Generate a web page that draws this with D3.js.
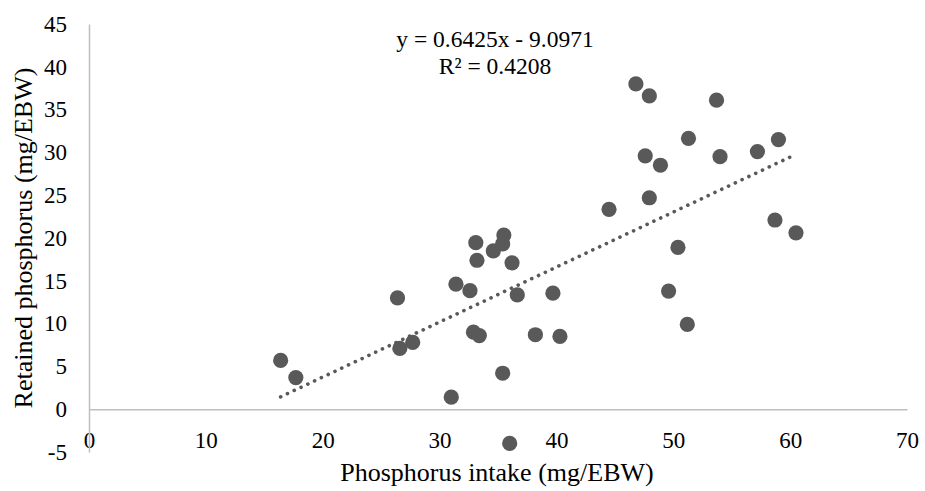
<!DOCTYPE html>
<html>
<head>
<meta charset="utf-8">
<script src="https://cdn.jsdelivr.net/npm/d3@7"></script>
<style>
	body { margin: 0; background: #fff; }
	svg text { font-family: "Liberation Serif", "Times New Roman", serif; fill: #000; }
</style>
</head>
<body>
<svg id="chart" width="925" height="491"></svg>
<script>
// phosphorus intake (mg/EBW)
const intake = [
	16.4, 17.7, 26.4, 26.6, 27.7, 31.0, 31.4, 32.6, 32.9, 33.1,
	33.2, 33.4, 34.6, 35.4, 35.5, 35.4, 36.0, 36.2, 36.65, 38.2,
	39.7, 40.3, 44.5, 46.8, 47.6, 47.95, 47.95, 48.9, 49.6, 50.4,
	51.2, 51.3, 53.7, 54.0, 57.2, 58.7, 59.0, 60.5
];
// retained phosphorus (mg/EBW)
const retained = [
	5.7, 3.7, 13.0, 7.1, 7.8, 1.4, 14.6, 13.85, 9.0, 19.45,
	17.4, 8.6, 18.5, 19.3, 20.35, 4.2, -4.0, 17.1, 13.35, 8.7,
	13.55, 8.5, 23.35, 38.0, 29.6, 36.6, 24.7, 28.5, 13.8, 18.9,
	9.9, 31.65, 36.1, 29.5, 30.1, 22.1, 31.5, 20.6
];
const xTicks = [0, 10, 20, 30, 40, 50, 60, 70];
const yTicks = [-5, 0, 5, 10, 15, 20, 25, 30, 35, 40, 45];
const slope = 0.6425;
const intercept = -9.0971;
const equationLines = ['y = 0.6425x - 9.0971', 'R² = 0.4208'];

const serif = '"Liberation Serif", "Times New Roman", serif';
const svg = d3.select('#chart');

const x = d3.scaleLinear().domain([0, 70]).range([89, 907]);
const y = d3.scaleLinear().domain([-5, 45]).range([452, 24]);

// plain hyphen for negatives, like the original
const plain = (d) => String(d);

// axes (no tick marks, light grey lines)
const xAxis = svg.append('g')
	.attr('transform', 'translate(0,' + y(0) + ')')
	.call(d3.axisBottom(x).tickValues(xTicks).tickFormat(plain).tickSize(0).tickPadding(22));

const yAxis = svg.append('g')
	.attr('transform', 'translate(' + x(0) + ',0)')
	.call(d3.axisLeft(y).tickValues(yTicks).tickFormat(plain).tickSize(0).tickPadding(22));

[xAxis, yAxis].forEach((axis) => {
	axis.attr('font-family', null).attr('font-size', null);
	axis.select('.domain')
		.attr('stroke', '#bfbfbf')
		.attr('stroke-width', 1.5);
	axis.selectAll('text')
		.style('font-family', serif)
		.style('font-size', '23px')
		.attr('fill', '#000');
});

// points
const points = intake.map((v, i) => ({x: v, y: retained[i]}));

svg.append('g')
	.selectAll('circle')
	.data(points)
	.enter().append('circle')
		.attr('cx', function(d) { return x(d.x); })
		.attr('cy', function(d) { return y(d.y); })
		.attr('r', 7.6)
		.attr('fill', '#595959');

// linear trendline over the data range
const xExtent = d3.extent(intake);
const trend = xExtent.map((v) => ({x: v, y: slope * v + intercept}));

svg.append('path')
	.datum(trend)
	.attr('d', d3.line()
		.x(function(d) { return x(d.x); })
		.y(function(d) { return y(d.y); }))
	.attr('fill', 'none')
	.attr('stroke', '#595959')
	.attr('stroke-width', 3.6)
	.attr('stroke-linecap', 'round')
	.attr('stroke-dasharray', '0.1 7.4');

// equation label
svg.append('g')
	.selectAll('text')
	.data(equationLines)
	.enter().append('text')
		.text(function(d) { return d; })
		.attr('x', 495)
		.attr('y', function(d, i) { return 47 + i * 27; })
		.attr('text-anchor', 'middle')
		.style('font-size', '23.5px');

// axis titles
svg.append('text')
	.text('Phosphorus intake (mg/EBW)')
	.attr('x', 497)
	.attr('y', 481)
	.attr('text-anchor', 'middle')
	.style('font-size', '26px');

svg.append('text')
	.text('Retained phosphorus (mg/EBW)')
	.attr('transform', 'translate(32,238) rotate(-90)')
	.attr('text-anchor', 'middle')
	.style('font-size', '26px');
</script>
</body>
</html>
